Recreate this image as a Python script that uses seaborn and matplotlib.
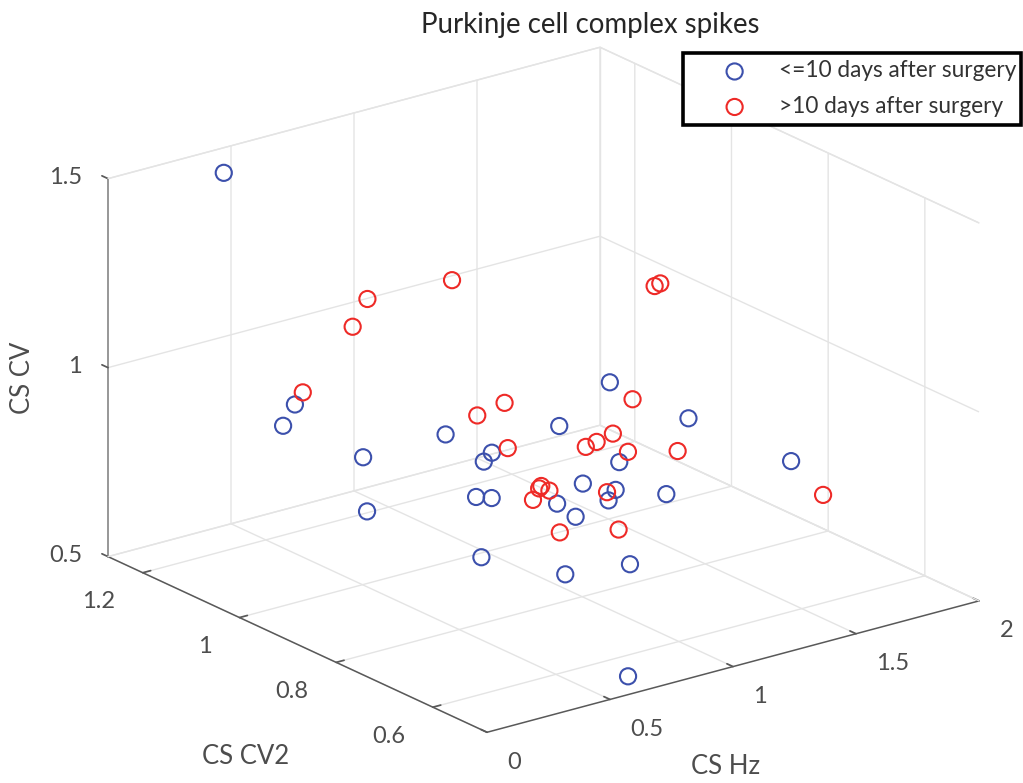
import numpy as np
import pandas as pd
import matplotlib
matplotlib.use('Agg')
import matplotlib.pyplot as plt
import seaborn as sns
from mpl_toolkits.mplot3d import proj3d

# values
early_hz = [0.394, 0.298, 0.250, 0.420, 0.436, 0.602, 0.790, 0.604, 1.064, 1.423, 1.436, 1.308, 1.346,
            1.160, 1.140, 0.956, 0.726, 0.636, 0.902, 0.822, 0.439, 0.780, 1.043, 1.698, 0.650]
early_cv2 = [1.233, 1.037, 1.037, 0.958, 0.958, 0.880, 0.880, 0.802, 0.880, 0.958, 0.802, 0.880, 0.802,
             0.880, 0.802, 0.723, 0.880, 0.802, 0.802, 0.723, 0.723, 0.723, 0.723, 0.723, 0.527]
early_cv = [1.470, 0.990, 0.942, 0.876, 0.730, 0.951, 0.870, 0.925, 0.893, 0.900, 0.895, 0.755, 0.710,
            0.724, 0.757, 0.808, 0.764, 0.823, 0.762, 0.788, 0.7475, 0.643, 0.624, 0.783, 0.512]

late_hz = [0.995, 0.884, 1.362, 1.282, 1.216, 1.172, 1.008, 1.190, 1.392, 0.991, 0.829, 1.024,
           0.804, 1.105, 0.913, 1.152, 1.090, 0.746, 0.686, 0.330, 1.605, 1.628, 1.828]
late_cv2 = [0.958, 0.958, 0.880, 0.880, 0.880, 0.880, 0.958, 0.802, 0.802, 0.880, 0.802, 0.880,
            0.802, 0.802, 0.802, 0.802, 1.115, 1.115, 1.115, 1.037, 0.958, 0.958, 0.723]
late_cv = [0.920, 0.906, 0.912, 0.835, 0.8245, 0.819, 0.798, 0.849, 0.816, 0.747, 0.815, 0.729,
           0.789, 0.757, 0.684, 0.650, 1.135, 1.145, 1.082, 1.0165, 1.123, 1.126, 0.671]

group_names = ['<=10 days after surgery', '>10 days after surgery']
hz_ticks = [0, 0.5, 1, 1.5, 2]
cv2_ticks = [0.6, 0.8, 1, 1.2]
cv_ticks = [0.5, 1, 1.5]
hz_labels = ['0', '0.5', '1', '1.5', '2']
cv2_labels = ['0.6', '0.8', '1', '1.2']
cv_labels = ['0.5', '1', '1.5']
hz_lim = (0, 2)
cv2_lim = (0.488, 1.272)
cv_lim = (0.5, 1.5)

df = pd.concat([
    pd.DataFrame({'hz': early_hz, 'cv2': early_cv2, 'cv': early_cv, 'group': group_names[0]}),
    pd.DataFrame({'hz': late_hz, 'cv2': late_cv2, 'cv': late_cv, 'group': group_names[1]}),
])

sns.set_theme(style='white')
plt.rcParams['font.family'] = ['Lato', 'DejaVu Sans']
palette = dict(zip(group_names, ['#3c50ac', '#ee2a27']))
grid_col = '#e4e4e4'
text_col = '#4d4d4d'

W, H = 1023, 783
fig = plt.figure(figsize=(W / 100, H / 100), dpi=100)
ax = fig.add_subplot(projection='3d', computed_zorder=False)
ax.set_proj_type('ortho')
ax.view_init(elev=20.6, azim=232.8)
ax.set_box_aspect((617.7, 626.9, 403.8))
ax.set_xlim(*hz_lim)
ax.set_ylim(*cv2_lim)
ax.set_zlim(*cv_lim)

for axis in (ax.xaxis, ax.yaxis, ax.zaxis):
    axis.set_pane_color((1, 1, 1, 0))
    axis.pane.set_edgecolor((1, 1, 1, 0))
    axis.line.set_color('#595959')
    axis.line.set_linewidth(1.1)
    axis._axinfo['grid'].update(color=grid_col, linewidth=1.0)
    axis._axinfo['tick'].update(inward_factor=0.0, outward_factor=0.2)
ax.zaxis.line.set_color('#808080')
# z ticks point along CV2 in the reference
ax.zaxis._get_tickdir = lambda pos: 1

ax.set_xticks(hz_ticks, hz_labels, ha='left', va='center', fontsize=17, color=text_col)
ax.set_yticks(cv2_ticks, cv2_labels, ha='right', va='center', fontsize=17, color=text_col)
ax.set_zticks(cv_ticks, cv_labels, ha='right', va='center', fontsize=17, color=text_col)
ax.tick_params(axis='both', color='#595959', width=1.0)
ax.tick_params(axis='x', pad=11)
ax.tick_params(axis='y', pad=12)
ax.tick_params(axis='z', pad=2.5)

# back edges of the box, no outer vertical on the right
for z in cv_lim:
    ax.plot([hz_lim[0], hz_lim[1], hz_lim[1]], [cv2_lim[1], cv2_lim[1], cv2_lim[0]], [z, z, z],
            color=grid_col, lw=1.0, zorder=1)
ax.plot([hz_lim[1], hz_lim[1]], [cv2_lim[1], cv2_lim[1]], cv_lim, color=grid_col, lw=1.0, zorder=1)

for name in group_names:
    d = df[df['group'] == name]
    ax.scatter(d['hz'], d['cv2'], d['cv'], s=135, facecolors='none', edgecolors=palette[name],
               linewidths=1.5, depthshade=False, label=name, zorder=5)

leg = ax.legend(loc='upper left', bbox_to_anchor=(683 / W, 1 - 127.5 / H, 338 / W, 75 / H), mode='expand',
                bbox_transform=fig.transFigure, fontsize=16.3, frameon=True, fancybox=False,
                edgecolor='black', framealpha=1, borderaxespad=0, labelspacing=0.64, handlelength=3.86,
                handletextpad=0.04, borderpad=0.35)
leg.get_frame().set_linewidth(2.6)
for t in leg.get_texts():
    t.set_color('#333333')

fig.suptitle('Purkinje cell complex spikes', x=590 / W, y=1 - 25 / H, va='center', fontsize=19.9, color='#262626')

# axis names sit where the reference has them, mplot3d would tilt and push them around
ax.text2D(726 / W, 1 - 766 / H, 'CS Hz', transform=fig.transFigure, ha='center', va='center',
          fontsize=18.5, color=text_col)
ax.text2D(245.5 / W, 1 - 756 / H, 'CS CV2', transform=fig.transFigure, ha='center', va='center',
          fontsize=18.5, color=text_col)
ax.text2D(22 / W, 1 - 378 / H, 'CS CV', transform=fig.transFigure, ha='center', va='center', rotation=90,
          fontsize=18.5, color=text_col)


def corner_px(x, y, z):
    xs, ys, _ = proj3d.proj_transform(x, y, z, ax.get_proj())
    return ax.transData.transform((xs, ys))


def place(side, cx, cy):
    ax.set_position([(cx - side / 2) / W, (cy - side / 2) / H, side / W, side / H])
    fig.canvas.draw()


# fit the box onto the left and right floor corners of the reference
left_target = np.array([108, H - 556.5])
right_target = np.array([979, H - 601])
side, cx, cy = 800.0, W / 2, H / 2
for i in range(3):
    place(side, cx, cy)
    left = corner_px(hz_lim[0], cv2_lim[1], cv_lim[0])
    right = corner_px(hz_lim[1], cv2_lim[0], cv_lim[0])
    side *= (right_target[0] - left_target[0]) / (right[0] - left[0])
    shift = (left_target + right_target) / 2 - (left + right) / 2
    cx += shift[0]
    cy += shift[1]
place(side, cx, cy)

fig.savefig('out.png', dpi=100)
